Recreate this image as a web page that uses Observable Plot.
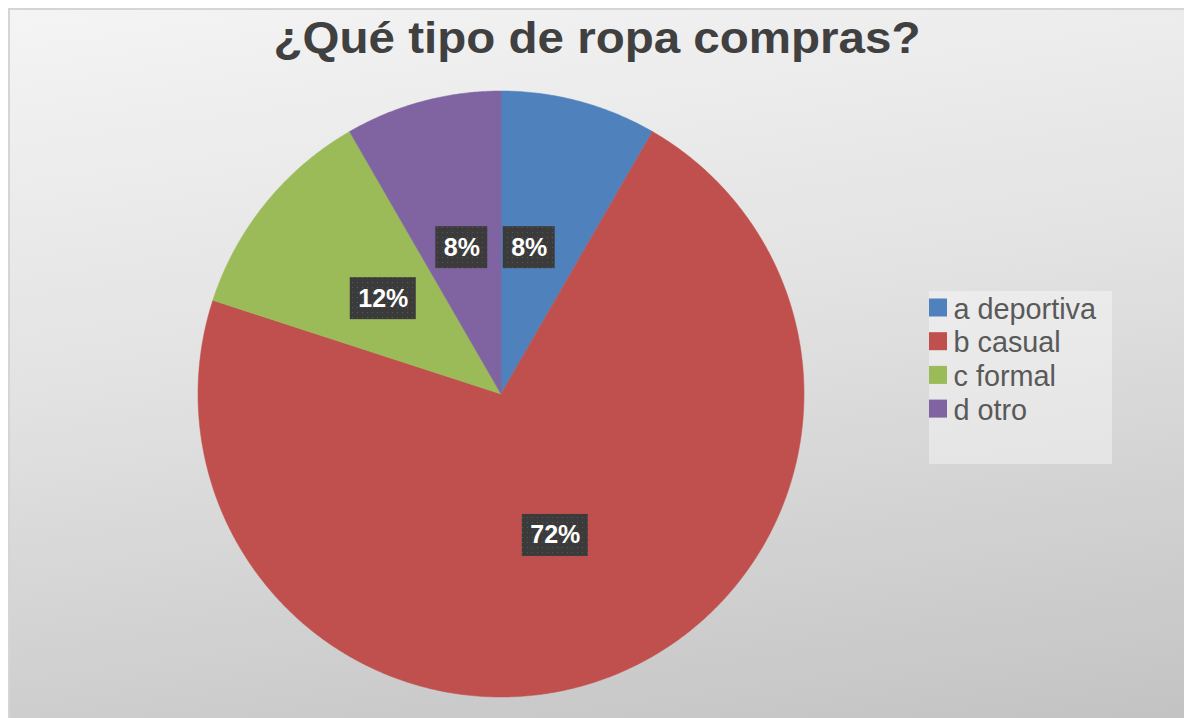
<!DOCTYPE html>
<html>
<head>
<meta charset="utf-8">
<script src="https://cdn.jsdelivr.net/npm/d3@7"></script>
<script src="https://cdn.jsdelivr.net/npm/@observablehq/plot@0.6"></script>
<style>
  html, body { margin: 0; padding: 0; background: #ffffff; }
  #wrap { position: relative; width: 1184px; height: 718px; overflow: hidden; background: #ffffff; }
  #bg { position: absolute; left: 8px; top: 8px; right: 0; bottom: 0;
        border-top: 2px solid #d5d5d5; border-left: 2px solid #d5d5d5;
        background: linear-gradient(172deg, #f4f4f4 0%, #e2e2e2 45%, #c3c3c3 100%); }
  #chart { position: absolute; left: 0; top: 0; }
</style>
</head>
<body>
<svg width="0" height="0" style="position:absolute">
  <defs>
    <pattern id="dots" width="5" height="5" patternUnits="userSpaceOnUse">
      <rect width="5" height="5" fill="#3b3b3b"></rect>
      <rect x="2" y="2" width="1" height="1" fill="#575757"></rect>
    </pattern>
  </defs>
</svg>
<div id="wrap"><div id="bg"></div><div id="chart"></div></div>
<script>
// ---- data ----
const title = "¿Qué tipo de ropa compras?";
const categories = ["a deportiva", "b casual", "c formal", "d otro"];
const counts = [5, 43, 7, 5];
const colors = ["#4f81bd", "#c0504d", "#9bbb59", "#8064a2"];

// ---- layout (pixels) ----
const W = 1184, H = 718;
const cx = 500.5, cy = 393.5, R = 303;
const labelR = 0.5;
const labelNudge = [-11, 0, 0, 0];

const total = d3.sum(counts);
const arcs = d3.pie().sort(null).value(d => d)(counts);

// slice outlines
const slicePts = [];
arcs.forEach((a, i) => {
  const key = categories[i];
  slicePts.push({key, x: cx, y: cy});
  const n = Math.max(2, Math.ceil((a.endAngle - a.startAngle) / (Math.PI / 360)));
  for (let k = 0; k <= n; k++) {
    const t = a.startAngle + (a.endAngle - a.startAngle) * k / n;
    slicePts.push({key, x: cx + R * Math.sin(t), y: cy - R * Math.cos(t)});
  }
  slicePts.push({key, x: cx, y: cy});
});

// labels
const fmt = d3.format(".0%");
const labels = arcs.map((a, i) => {
  const m = (a.startAngle + a.endAngle) / 2;
  const text = fmt(counts[i] / total);
  const w = text.length <= 2 ? 52 : 66;
  const x = cx + R * labelR * Math.sin(m) + labelNudge[i];
  const y = cy - R * labelR * Math.cos(m);
  return {text, x, y, x1: x - w / 2, x2: x + w / 2, y1: y - 21, y2: y + 21};
});

// legend
const legend = categories.map((c, i) => ({key: c, i}));
const legY = i => 307.5 + i * 33.7;

const chart = Plot.plot({
  width: W, height: H, margin: 0,
  x: {domain: [0, W], range: [0, W], axis: null},
  y: {domain: [0, H], range: [0, H], axis: null},
  color: {domain: categories, range: colors},
  style: {background: "transparent", overflow: "visible"},
  marks: [
    Plot.line(slicePts, {x: "x", y: "y", z: "key", fill: "key", stroke: "key", strokeWidth: 0.5, curve: "linear"}),
    Plot.rect(labels, {x1: "x1", x2: "x2", y1: "y1", y2: "y2", fill: "url(#dots)"}),
    Plot.text(labels, {x: "x", y: "y", text: "text", fill: "white", fontSize: 25,
      fontFamily: "Liberation Sans, Arial, sans-serif", fontWeight: "bold"}),
    Plot.text([title], {x: () => 596.5, y: () => 38.5, text: d => d, fontSize: 44, fontWeight: "bold",
      fontFamily: "Liberation Sans, Arial, sans-serif", fill: "#404040", className: "ttl"}),
    Plot.rect([0], {x1: () => 929, x2: () => 1112, y1: () => 291, y2: () => 464, fill: "white", fillOpacity: 0.38}),
    Plot.rect(legend, {x1: () => 929, x2: () => 947, y1: d => legY(d.i) - 9, y2: d => legY(d.i) + 9, fill: "key"}),
    Plot.text(legend, {x: () => 953, y: d => legY(d.i) + 1.5, text: "key", textAnchor: "start", fontSize: 28.8,
      fontFamily: "Liberation Sans, Arial, sans-serif", fill: "#595959"})
  ]
});
document.getElementById("chart").appendChild(chart);
// fit title width to reference
d3.select(chart).selectAll(".ttl text").attr("textLength", 647).attr("lengthAdjust", "spacingAndGlyphs");
</script>
</body>
</html>
